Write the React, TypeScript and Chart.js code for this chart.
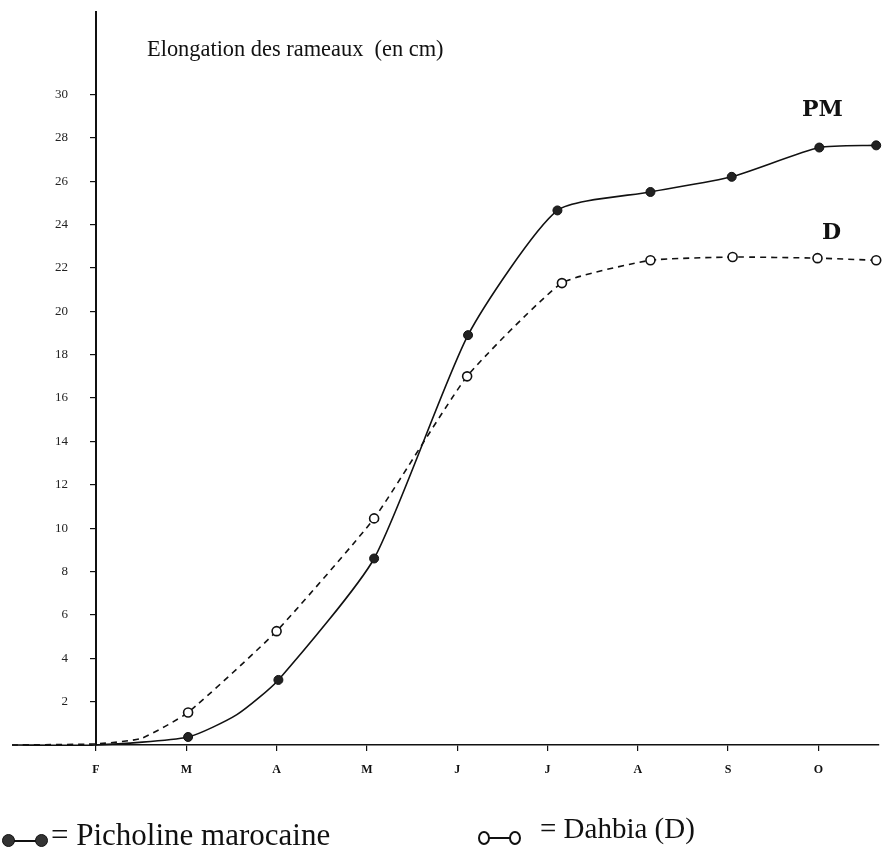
import React, { useEffect, useRef } from "react";
import { Chart, registerables } from "chart.js";

Chart.register(...registerables);

// Month tick labels (F = février ... O = octobre)
const monthLabels = ["F", "M", "A", "M", "J", "J", "A", "S", "O"];
const monthPositions = [0, 1, 2, 3, 4, 5, 6, 7, 8];
const yTickValues = [2, 4, 6, 8, 10, 12, 14, 16, 18, 20, 22, 24, 26, 28, 30];

// Picholine marocaine (PM)
const pmMonths = [-0.93, 0, 1.02, 1.56, 2.02, 3.08, 4.12, 5.11, 6.14, 7.04, 8.01, 8.64];
const pmValues = [0, 0, 0.37, 1.4, 3.0, 8.6, 18.9, 24.65, 25.5, 26.2, 27.55, 27.65];

// Dahbia (D)
const dMonths = [-0.93, 0, 0.5, 1.02, 2.0, 3.08, 4.11, 5.16, 6.14, 7.05, 7.99, 8.64];
const dValues = [0, 0.05, 0.3, 1.5, 5.25, 10.45, 17.0, 21.3, 22.35, 22.5, 22.45, 22.35];

const markedMonths = [1.02, 2.0, 2.02, 3.08, 4.11, 4.12, 5.11, 5.16, 6.14, 7.04, 7.05, 7.99, 8.01, 8.64];

const SERIF = "'Liberation Serif', 'Times New Roman', serif";

export default function App() {
  const canvasRef = useRef<HTMLCanvasElement | null>(null);

  useEffect(() => {
    const canvas = canvasRef.current;
    if (!canvas) return;
    const markRadius = (ctx: any) => (ctx.raw && markedMonths.includes(ctx.raw.x) ? 4.5 : 0);
    const chart = new Chart(canvas, {
      type: "line",
      data: {
        datasets: [
          {
            label: "Picholine marocaine",
            data: pmMonths.map((m, i) => ({ x: m, y: pmValues[i] })),
            borderColor: "#111",
            borderWidth: 1.6,
            backgroundColor: "#111",
            pointBackgroundColor: "#222",
            pointBorderColor: "#111",
            pointRadius: markRadius,
            pointBorderWidth: 1,
            tension: 0.2,
            fill: false,
            clip: false,
          },
          {
            label: "Dahbia (D)",
            data: dMonths.map((m, i) => ({ x: m, y: dValues[i] })),
            borderColor: "#111",
            borderWidth: 1.6,
            borderDash: [6, 5],
            backgroundColor: "#fff",
            pointBackgroundColor: "#fff",
            pointBorderColor: "#111",
            pointRadius: markRadius,
            pointBorderWidth: 1.6,
            tension: 0.15,
            fill: false,
            clip: false,
          },
        ],
      },
      options: {
        animation: false,
        responsive: true,
        maintainAspectRatio: false,
        layout: { padding: { top: 12, left: 12, right: 0, bottom: 0 } },
        plugins: {
          legend: { display: false },
          title: { display: false },
          tooltip: { enabled: false },
        },
        scales: {
          x: {
            type: "linear",
            position: "bottom",
            min: 0,
            max: 8.67,
            afterBuildTicks: (s: any) => {
              s.ticks = monthPositions.map((v) => ({ value: v }));
            },
            afterFit: (s: any) => {
              s.height = 121;
              s.paddingLeft = 0;
              s.paddingRight = 0;
            },
            grid: { drawOnChartArea: false, drawTicks: true, tickLength: 6, color: "#111", lineWidth: 1.2 },
            border: { display: true, color: "#111", width: 1.5, dash: [10, 2] },
            ticks: {
              autoSkip: false,
              maxRotation: 0,
              padding: 12,
              color: "#111",
              font: { family: SERIF, size: 12, weight: "bold" },
              callback: (v: any) => {
                const i = monthPositions.indexOf(Number(v));
                return i >= 0 ? monthLabels[i] : "";
              },
            },
          },
          y: {
            type: "linear",
            position: "left",
            min: 0,
            max: 33.8,
            afterBuildTicks: (s: any) => {
              s.ticks = yTickValues.map((v) => ({ value: v }));
            },
            afterFit: (s: any) => {
              s.width = 84;
              s.paddingTop = 0;
              s.paddingBottom = 0;
            },
            grid: { drawOnChartArea: false, drawTicks: true, tickLength: 6, color: "#111", lineWidth: 1.2 },
            border: { display: true, color: "#111", width: 2 },
            ticks: {
              padding: 22,
              color: "#222",
              font: { family: SERIF, size: 13 },
              callback: (v: any) => String(v),
            },
          },
        },
      },
    });
    return () => chart.destroy();
  }, []);

  const dotFilled: React.CSSProperties = {
    position: "absolute",
    width: 13,
    height: 13,
    borderRadius: "50%",
    background: "#333",
    border: "1px solid #111",
    boxSizing: "border-box",
  };
  const dotOpen: React.CSSProperties = {
    position: "absolute",
    width: 12,
    height: 14,
    borderRadius: "50%",
    background: "#fff",
    border: "2px solid #111",
    boxSizing: "border-box",
  };

  return (
    <div style={{ position: "absolute", left: 0, top: 0, width: 885, height: 866, background: "#fff" }}>
      <canvas ref={canvasRef} />
      <div
        style={{
          position: "absolute",
          left: 147,
          top: 36,
          fontFamily: SERIF,
          fontSize: 22.4,
          color: "#111",
          whiteSpace: "pre",
        }}
      >
        {"Elongation des rameaux  (en cm)"}
      </div>
      <div
        style={{
          position: "absolute",
          left: 802,
          top: 95,
          fontFamily: "'DejaVu Serif', serif",
          fontWeight: "bold",
          fontSize: 22,
          color: "#111",
        }}
      >
        PM
      </div>
      <div
        style={{
          position: "absolute",
          left: 822,
          top: 218,
          fontFamily: "'DejaVu Serif', serif",
          fontWeight: "bold",
          fontSize: 22,
          color: "#111",
        }}
      >
        D
      </div>
      {/* Legend */}
      <div style={{ ...dotFilled, left: 2, top: 834 }} />
      <div style={{ position: "absolute", left: 14, top: 840, width: 24, height: 2, background: "#111" }} />
      <div style={{ ...dotFilled, left: 35, top: 834 }} />
      <div
        style={{
          position: "absolute",
          left: 51,
          top: 817,
          fontFamily: SERIF,
          fontSize: 31,
          color: "#111",
          whiteSpace: "pre",
        }}
      >
        = Picholine marocaine
      </div>
      <div style={{ ...dotOpen, left: 478, top: 831 }} />
      <div style={{ position: "absolute", left: 489, top: 837, width: 21, height: 2, background: "#111" }} />
      <div style={{ ...dotOpen, left: 509, top: 831 }} />
      <div
        style={{
          position: "absolute",
          left: 540,
          top: 812,
          fontFamily: SERIF,
          fontSize: 29,
          color: "#111",
          whiteSpace: "pre",
        }}
      >
        = Dahbia (D)
      </div>
    </div>
  );
}
